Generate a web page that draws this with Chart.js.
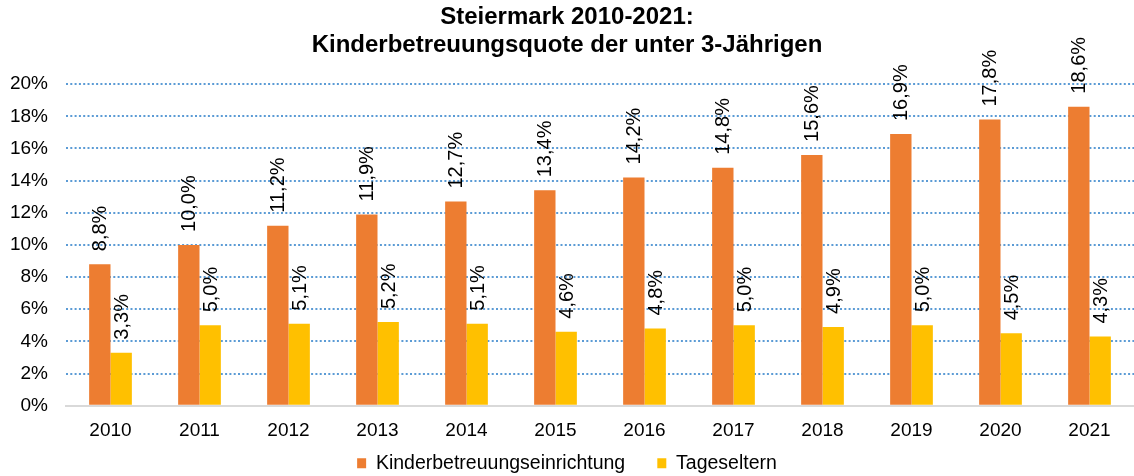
<!DOCTYPE html>
<html>
<head>
<meta charset="utf-8">
<script src="https://cdn.jsdelivr.net/npm/chart.js@4"></script>
<style>
    body { margin: 0; background: #fff; }
    #wrap { width: 1134px; height: 476px; }
</style>
</head>
<body>
<div id="wrap"><canvas id="barChart"></canvas></div>
<script>
const years = ["2010", "2011", "2012", "2013", "2014", "2015", "2016", "2017", "2018", "2019", "2020", "2021"];
const einrichtung = [8.8, 10.0, 11.2, 11.9, 12.7, 13.4, 14.2, 14.8, 15.6, 16.9, 17.8, 18.6];
const tageseltern = [3.3, 5.0, 5.1, 5.2, 5.1, 4.6, 4.8, 5.0, 4.9, 5.0, 4.5, 4.3];
const yTicks = [0, 2, 4, 6, 8, 10, 12, 14, 16, 18, 20];

const fontFamily = "'Liberation Sans', Arial, sans-serif";

const fmt = (v) => v.toFixed(1).replace(".", ",") + "%";

// vertical value labels above each bar
const valueLabels = {
    id: "valueLabels",
    afterDatasetsDraw(chart) {
        const ctx = chart.ctx;
        ctx.save();
        ctx.font = "20px " + fontFamily;
        ctx.fillStyle = "#000";
        ctx.textAlign = "left";
        ctx.textBaseline = "middle";
        chart.data.datasets.forEach((ds, i) => {
            chart.getDatasetMeta(i).data.forEach((bar, j) => {
                ctx.save();
                ctx.translate(bar.x + 1, bar.y - 13);
                ctx.rotate(-Math.PI / 2);
                ctx.fillText(fmt(ds.data[j]), 0, 0);
                ctx.restore();
            });
        });
        ctx.restore();
    },
};

new Chart(document.getElementById("barChart"), {
    type: "bar",
    data: {
        labels: years,
        datasets: [
            {
                label: "Kinderbetreuungseinrichtung",
                data: einrichtung,
                backgroundColor: "#ED7D31",
            },
            {
                label: "Tageseltern",
                data: tageseltern,
                backgroundColor: "#FFC000",
            },
        ],
    },
    options: {
        responsive: true,
        maintainAspectRatio: false,
        animation: false,
        datasets: {
            bar: {
                categoryPercentage: 0.48,
                barPercentage: 1.0,
            },
        },
        layout: {
            padding: { left: 0, right: 0, top: 3, bottom: -7 },
        },
        plugins: {
            title: {
                display: true,
                text: ["Steiermark 2010-2021:", "Kinderbetreuungsquote der unter 3-Jährigen"],
                color: "#000",
                font: { family: fontFamily, size: 24, weight: "bold", lineHeight: 1.17 },
                padding: { top: 0, bottom: 25 },
            },
            legend: {
                position: "bottom",
                labels: {
                    color: "#000",
                    font: { family: fontFamily, size: 19.5 },
                    boxWidth: 9,
                    boxHeight: 10,
                    padding: 5,
                    generateLabels: (chart) =>
                        Chart.defaults.plugins.legend.labels.generateLabels(chart).map((l, i) => {
                            if (i === 0) l.text = l.text + "     ";
                            return l;
                        }),
                },
            },
            tooltip: { enabled: false },
        },
        scales: {
            x: {
                grid: { display: false },
                border: { display: true, color: "#D9D9D9", width: 2 },
                ticks: {
                    color: "#000",
                    font: { family: fontFamily, size: 19 },
                    padding: 6,
                },
            },
            y: {
                min: 0,
                max: 20,
                afterBuildTicks: (axis) => {
                    axis.ticks = yTicks.map((v) => ({ value: v }));
                },
                afterFit: (axis) => {
                    axis.width = 66;
                },
                grid: {
                    color: (c) => (c.index === 0 ? "rgba(0,0,0,0)" : "#5B9BD5"),
                    lineWidth: 2,
                    drawTicks: false,
                },
                border: { display: false, dash: [2, 2.3] },
                ticks: {
                    color: "#000",
                    font: { family: fontFamily, size: 19 },
                    padding: 18,
                    callback: (v) => v + "%",
                },
            },
        },
    },
    plugins: [valueLabels],
});
</script>
</body>
</html>
